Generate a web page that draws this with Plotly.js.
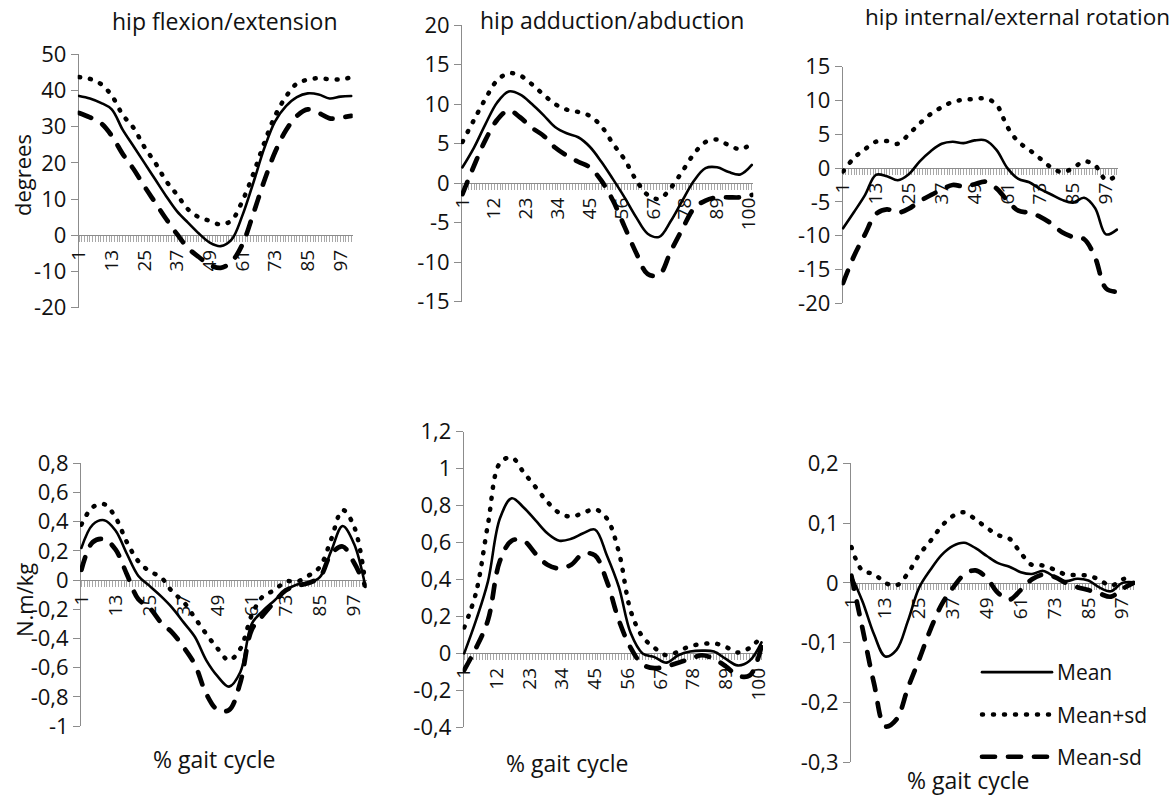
<!DOCTYPE html>
<html><head><meta charset="utf-8">
<script src="https://cdn.plot.ly/plotly-3.0.1.min.js"></script>
<style>
html,body{margin:0;padding:0;background:#fff;}
#chart{width:1175px;height:796px;}
.js-line{stroke-linecap:round !important;stroke-linejoin:round !important;}
</style></head><body><div id="chart"></div>
<script>
// % gait cycle sample points (category index)
const gait = [1,5,9,13,17,21,25,29,33,37,41,45,49,53,57,61,65,69,73,77,81,85,89,93,97,101];

// x tick labels
const labelsEvery12 = ['1','13','25','37','49','61','73','85','97'];
const labelsEvery11 = ['1','12','23','34','45','56','67','78','89','100'];

// hip flexion/extension (degrees)
const hfeMean  = [38.5,37.8,36.6,34.8,29.2,24.6,20.0,15.4,10.8,6.6,3.5,0.5,-2.0,-3.0,-1.2,5.5,14.5,24.0,31.5,35.7,38.2,39.2,38.9,37.8,38.3,38.5];
const hfePlus  = [43.7,43.2,41.8,38.6,33.3,29.7,24.4,20.0,15.0,11.2,7.2,5.0,4.0,3.0,4.1,9.5,17.0,25.5,33.0,38.3,41.9,43.0,43.4,43.1,43.1,43.6];
const hfeMinus = [33.8,32.6,31.0,27.5,22.5,18.3,13.5,9.0,4.5,0.3,-3.5,-6.0,-8.2,-9.0,-7.3,-2.5,6.0,15.0,23.0,29.0,33.0,34.8,33.8,32.3,32.5,33.0];

// hip adduction/abduction (degrees)
const haaMean  = [2.0,4.5,7.5,10.2,11.6,11.2,10.0,8.6,7.1,6.3,5.8,4.6,2.7,0.5,-1.8,-4.3,-6.4,-6.8,-4.8,-2.2,0.3,1.9,2.0,1.4,1.1,2.3];
const haaPlus  = [5.2,8.0,10.7,13.0,13.9,13.6,12.5,11.2,10.0,9.3,9.0,8.5,7.2,5.0,3.0,0.4,-1.5,-2.0,-0.6,1.5,3.7,5.2,5.5,4.8,4.3,5.0];
const haaMinus = [-1.4,2.2,5.5,8.0,9.2,8.3,7.0,6.0,4.5,3.5,2.7,2.0,0.3,-2.2,-5.5,-8.8,-11.5,-11.6,-8.6,-5.8,-3.2,-2.2,-1.8,-1.8,-1.8,-1.5];

// hip internal/external rotation (degrees)
const hieMean  = [-8.9,-6.5,-4.0,-1.0,-1.2,-1.8,-0.9,1.0,2.5,3.6,3.9,3.7,4.1,4.1,2.7,0.0,-1.6,-2.1,-3.1,-3.9,-4.7,-5.1,-4.4,-5.9,-9.8,-9.1];
const hiePlus  = [-0.5,1.5,2.8,3.9,4.0,3.6,5.0,6.6,8.0,9.0,9.8,10.1,10.2,10.3,9.4,6.1,3.9,2.7,1.4,0.1,-0.6,0.0,1.0,0.4,-1.7,-1.1];
const hieMinus = [-17.0,-13.0,-9.8,-6.8,-6.1,-6.6,-6.0,-4.9,-4.0,-3.2,-2.5,-2.7,-2.4,-2.0,-3.0,-4.8,-6.3,-6.6,-7.2,-8.2,-9.5,-10.2,-10.5,-13.2,-17.8,-18.3];

// hip flexion/extension moment (N.m/kg)
const mfeMean  = [0.22,0.38,0.41,0.34,0.18,0.03,-0.04,-0.11,-0.19,-0.29,-0.39,-0.55,-0.66,-0.73,-0.63,-0.30,-0.21,-0.14,-0.07,-0.03,-0.02,0.02,0.20,0.37,0.25,-0.04];
const mfePlus  = [0.38,0.50,0.52,0.43,0.26,0.13,0.06,0.02,-0.08,-0.15,-0.26,-0.37,-0.47,-0.55,-0.47,-0.24,-0.11,-0.07,-0.01,-0.01,0.03,0.09,0.28,0.48,0.37,-0.02];
const mfeMinus = [0.07,0.26,0.28,0.21,0.04,-0.13,-0.19,-0.29,-0.36,-0.46,-0.58,-0.78,-0.89,-0.89,-0.70,-0.34,-0.24,-0.15,-0.07,-0.04,-0.02,0.02,0.18,0.23,0.12,-0.04];

// hip adduction/abduction moment (N.m/kg)
const maaMean  = [0.0,0.18,0.39,0.73,0.84,0.79,0.72,0.65,0.61,0.62,0.65,0.67,0.53,0.36,0.11,0.0,-0.02,-0.05,-0.01,0.01,0.015,0.01,-0.03,-0.065,-0.04,0.06];
const maaPlus  = [0.14,0.33,0.70,1.03,1.06,0.98,0.90,0.82,0.76,0.74,0.76,0.78,0.73,0.55,0.23,0.09,0.03,-0.01,0.01,0.04,0.05,0.055,0.035,0.005,0.03,0.09];
const maaMinus = [-0.09,0.03,0.18,0.50,0.61,0.61,0.54,0.48,0.46,0.48,0.54,0.53,0.39,0.18,0.03,-0.06,-0.08,-0.07,-0.05,-0.03,-0.01,-0.03,-0.07,-0.12,-0.12,0.04];

// hip internal/external rotation moment (N.m/kg)
const mieMean  = [0.012,-0.032,-0.086,-0.123,-0.112,-0.064,-0.008,0.022,0.047,0.062,0.067,0.058,0.045,0.033,0.027,0.018,0.015,0.020,0.010,0.003,0.007,0.004,-0.008,-0.014,0.0,0.001];
const miePlus  = [0.06,0.02,0.015,0.0,-0.004,0.016,0.047,0.07,0.095,0.112,0.118,0.106,0.092,0.08,0.074,0.05,0.03,0.029,0.022,0.014,0.013,0.012,0.005,-0.005,0.006,0.008];
const mieMinus = [0.012,-0.078,-0.168,-0.24,-0.228,-0.176,-0.128,-0.078,-0.036,-0.008,0.014,0.021,0.008,-0.017,-0.028,-0.012,0.006,0.014,0.010,0.0,-0.007,-0.012,-0.018,-0.023,-0.010,0.0];

// y tick values / labels
const yt1 = [-20,-10,0,10,20,30,40,50];
const yt2 = [-15,-10,-5,0,5,10,15,20];
const yt3 = [-20,-15,-10,-5,0,5,10,15];
const yt4 = [-1,-0.8,-0.6,-0.4,-0.2,0,0.2,0.4,0.6,0.8];
const yl4 = ['-1','-0,8','-0,6','-0,4','-0,2','0','0,2','0,4','0,6','0,8'];
const yt5 = [-0.4,-0.2,0,0.2,0.4,0.6,0.8,1,1.2];
const yl5 = ['-0,4','-0,2','0','0,2','0,4','0,6','0,8','1','1,2'];
const yt6 = [-0.3,-0.2,-0.1,0,0.1,0.2];
const yl6 = ['-0,3','-0,2','-0,1','0','0,1','0,2'];

const seriesNames = ['Mean','Mean+sd','Mean-sd'];

const W = 1175, H = 796;
const FONT = 'Open Sans, Noto Sans, sans-serif';
const panels = [
  {s:[hfeMean,hfePlus,hfeMinus], yr:[-20,50], yt:yt1, yl:yt1.map(String), xl:labelsEvery12, box:[77.7,352.7,54.3,307.7]},
  {s:[haaMean,haaPlus,haaMinus], yr:[-15,20], yt:yt2, yl:yt2.map(String), xl:labelsEvery11, box:[461,753.3,25,301.7]},
  {s:[hieMean,hiePlus,hieMinus], yr:[-20,15], yt:yt3, yl:yt3.map(String), xl:labelsEvery12, box:[841.7,1118.3,66.7,303.3]},
  {s:[mfeMean,mfePlus,mfeMinus], yr:[-1,0.8], yt:yt4, yl:yl4, xl:labelsEvery12, box:[80,366.7,463.3,726]},
  {s:[maaMean,maaPlus,maaMinus], yr:[-0.4,1.2], yt:yt5, yl:yl5, xl:labelsEvery11, box:[462.7,763,431.7,727.3]},
  {s:[mieMean,miePlus,mieMinus], yr:[-0.3,0.2], yt:yt6, yl:yl6, xl:labelsEvery12, box:[850,1135,463.3,762.3]}
];

const lineStyles = [
  {color:'#000', width:2.6, dash:'solid'},
  {color:'#000', width:4.5, dash:'1px,10px'},
  {color:'#000', width:4.7, dash:'13px,13px'}
];

const cats = [];
for (let c = 1; c <= 101; c++) cats.push(c);

const traces = [];
const layout = {
  width: W, height: H, autosize: false,
  margin: {l:0, r:0, t:0, b:0},
  paper_bgcolor: '#fff', plot_bgcolor: 'rgba(0,0,0,0)',
  font: {family: FONT, color: '#111', size: 20},
  showlegend: true,
  legend: {x: 1153/W, y: 1-652/H, xanchor:'right', yanchor:'top', font:{size:21, family:FONT, color:'#111'},
           tracegroupgap: 12, itemwidth: 70, bgcolor:'rgba(0,0,0,0)'},
  annotations: []
};

panels.forEach((p, i) => {
  const k = i === 0 ? '' : String(i+1);
  const xd = [p.box[0]/W, p.box[1]/W];
  const yd = [1 - p.box[3]/H, 1 - p.box[2]/H];
  const zeroPos = yd[0] + (0 - p.yr[0]) / (p.yr[1] - p.yr[0]) * (yd[1] - yd[0]);
  const ticktext = cats.map(c => p.xl.indexOf(String(c)) >= 0 ? String(c) : '');
  layout['xaxis' + k] = {
    domain: xd, anchor: 'free', position: zeroPos, range: [0.5, 101.5],
    showgrid: false, zeroline: false, showline: true, linecolor: '#8c8c8c', linewidth: 1,
    ticks: 'outside', ticklen: 6, tickwidth: 1, tickcolor: '#a8a8a8',
    tickmode: 'array', tickvals: cats, ticktext: ticktext, tickangle: -90,
    tickfont: {size: 19, family: FONT, color:'#111'}, layer: 'below traces', fixedrange: true
  };
  layout['yaxis' + k] = {
    domain: yd, anchor: 'free', position: xd[0], range: p.yr,
    showgrid: false, zeroline: false, showline: true, linecolor: '#8c8c8c', linewidth: 1,
    ticks: 'outside', ticklen: 7, tickwidth: 1, tickcolor: '#8c8c8c',
    tickmode: 'array', tickvals: p.yt, ticktext: p.yl,
    tickfont: {size: 22, family: FONT, color:'#111'}, layer: 'below traces', fixedrange: true
  };
  p.s.forEach((ys, j) => {
    traces.push({
      x: gait, y: ys, xaxis: 'x' + k, yaxis: 'y' + k,
      type: 'scatter', mode: 'lines', name: seriesNames[j],
      legendgroup: seriesNames[j], showlegend: i === 0,
      line: {shape: 'spline', smoothing: 1, color: lineStyles[j].color, width: lineStyles[j].width, dash: lineStyles[j].dash},
      hoverinfo: 'skip'
    });
  });
});

function note(text, px, py, opts) {
  layout.annotations.push(Object.assign({
    text: text, x: px/W, y: 1 - py/H, xref: 'paper', yref: 'paper',
    showarrow: false, xanchor: 'center', yanchor: 'middle',
    font: {size: 23, family: FONT, color: '#111'}
  }, opts || {}));
}
note('hip flexion/extension', 224.5, 21);
note('hip adduction/abduction', 611.5, 20);
note('hip internal/external rotation', 1172, 17, {xanchor: 'right', font: {size: 22.5, family: FONT, color: '#111'}});
note('degrees', 22, 175, {textangle: -90, font: {size: 22, family: FONT, color: '#111'}});
note('N.m/kg', 24, 600, {textangle: -90, font: {size: 22, family: FONT, color: '#111'}});
note('% gait cycle', 215, 759);
note('% gait cycle', 567.5, 763);
note('% gait cycle', 968, 780);

Plotly.newPlot('chart', traces, layout, {displayModeBar: false, staticPlot: true});
</script></body></html>
